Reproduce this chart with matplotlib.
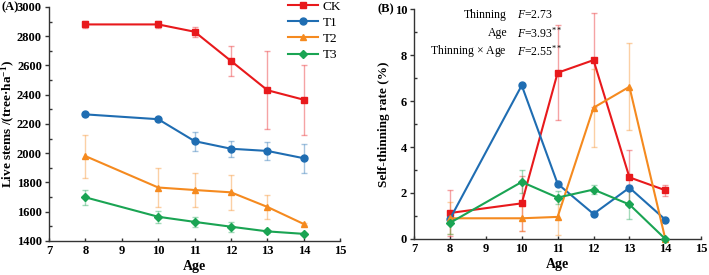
import numpy as np
import matplotlib
matplotlib.use("Agg")
import matplotlib.pyplot as plt
from matplotlib.ticker import MultipleLocator

plt.rcParams['font.family'] = ['Liberation Serif', 'DejaVu Serif']
plt.rcParams['mathtext.fontset'] = 'custom'
plt.rcParams['mathtext.rm'] = 'Liberation Serif'
plt.rcParams['mathtext.it'] = 'Liberation Serif:italic'
plt.rcParams['mathtext.bf'] = 'Liberation Serif:bold'

# data
age = [8, 10, 11, 12, 13, 14]
groups = ['CK', 'T1', 'T2', 'T3']

# (A) live stems
stems_ck = [2880, 2880, 2830, 2630, 2430, 2365]
stems_ck_err = [25, 25, 35, 100, 265, 240]
stems_t1 = [2265, 2232, 2082, 2030, 2015, 1965]
stems_t1_err = [8, 8, 65, 55, 60, 100]
stems_t2 = [1980, 1765, 1748, 1732, 1632, 1515]
stems_t2_err = [147, 130, 115, 118, 80, 5]
stems_t3 = [1698, 1565, 1530, 1497, 1465, 1448]
stems_t3_err = [50, 40, 35, 35, 12, 8]

# (B) self-thinning rate
rate_ck = [1.13, 1.55, 7.23, 7.78, 2.68, 2.12]
rate_ck_err = [1.0, 1.2, 2.07, 2.03, 1.2, 0.24]
rate_t1 = [0.87, 6.68, 2.40, 1.09, 2.23, 0.84]
rate_t1_err = [0.05, 0.05, 0.1, 0.08, 0.1, 0.05]
rate_t2 = [0.90, 0.90, 0.96, 5.71, 6.62, 0.0]
rate_t2_err = [0.7, 0.55, 0.8, 1.7, 1.9, 0.0]
rate_t3 = [0.70, 2.48, 1.80, 2.15, 1.50, 0.0]
rate_t3_err = [0.5, 0.5, 0.3, 0.2, 0.65, 0.0]

colors = ['#e8191c', '#1f6db2', '#f58a1f', '#1aa453']
markers = ['s', 'o', '^', 'D']
msizes = [5, 5, 5, 4.5]

fig = plt.figure(figsize=(7.09, 2.75), dpi=100)
axA = fig.add_axes([0.069, 0.124, 0.411, 0.851])
axB = fig.add_axes([0.584, 0.131, 0.405, 0.836])

stems = [(stems_ck, stems_ck_err), (stems_t1, stems_t1_err),
         (stems_t2, stems_t2_err), (stems_t3, stems_t3_err)]
rates = [(rate_ck, rate_ck_err), (rate_t1, rate_t1_err),
         (rate_t2, rate_t2_err), (rate_t3, rate_t3_err)]

for ax, data in [(axA, stems), (axB, rates)]:
    for (y, e), c, m, ms, name in zip(data, colors, markers, msizes, groups):
        ax.errorbar(age, y, yerr=e, fmt='none', ecolor=c, alpha=0.4,
                    elinewidth=1, capsize=2.5, capthick=1, zorder=2)
        ax.plot(age, y, color=c, marker=m, ms=ms, lw=1.5, label=name,
                zorder=3, clip_on=False)
    ax.set_xlim(7, 15)
    ax.xaxis.set_major_locator(MultipleLocator(1))
    ax.spines['top'].set_visible(False)
    ax.spines['right'].set_visible(False)
    for s in ['left', 'bottom']:
        ax.spines[s].set_linewidth(1.0)
        ax.spines[s].set_color('#333333')
    ax.tick_params(which='both', width=1, colors='#333333', labelcolor='black')
    ax.tick_params(axis='y', which='major', direction='out', length=3, labelsize=9, pad=2)
    ax.tick_params(axis='y', which='minor', direction='in', length=2)
    ax.tick_params(axis='x', which='major', direction='in', length=2.5, labelsize=9, pad=3)
    ax.set_xlabel('Age', fontsize=10, fontweight='bold', labelpad=2)

axA.set_ylim(1400, 3000)
axA.yaxis.set_major_locator(MultipleLocator(200))
axA.yaxis.set_minor_locator(MultipleLocator(100))
axA.set_ylabel('Live stems /(tree\u00b7ha$^{\\mathbf{-1}}$)', fontsize=9.5,
               fontweight='bold', labelpad=0)
axA.legend(loc='upper right', bbox_to_anchor=(1.02, 1.05), frameon=False,
           fontsize=9.5, handlelength=2.3, handletextpad=0.3,
           labelspacing=0.3, borderaxespad=0)

axB.set_ylim(0, 10)
axB.yaxis.set_major_locator(MultipleLocator(2))
axB.yaxis.set_minor_locator(MultipleLocator(1))
axB.set_ylabel('Self-thinning rate (%)', fontsize=9.5, fontweight='bold', labelpad=3)

for ax in (axA, axB):
    for lab in ax.get_xticklabels() + ax.get_yticklabels():
        lab.set_fontweight('bold')

fig.text(0.002, 0.975, '(A)', ha='left', va='center', fontsize=9, fontweight='bold')
fig.text(0.532, 0.967, '(B)', ha='left', va='center', fontsize=9, fontweight='bold')

stats = [('Thinning', r'$F$=2.73'),
         ('Age', r'$F$=3.93$^{**}$'),
         (r'Thinning $\times$ Age', r'$F$=2.55$^{**}$')]
for i, (lab, val) in enumerate(stats):
    yy = 0.974 - i * 0.079
    axB.text(0.324, yy, lab, transform=axB.transAxes, ha='right', va='center', fontsize=8.5)
    axB.text(0.357, yy, val, transform=axB.transAxes, ha='left', va='center', fontsize=8.5)

fig.savefig('out.png', dpi=100)
